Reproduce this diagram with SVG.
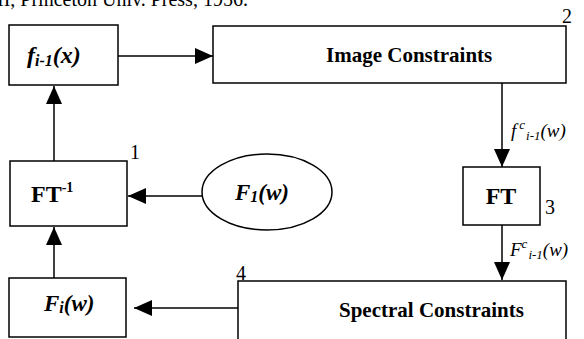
<svg xmlns="http://www.w3.org/2000/svg" width="584" height="339" viewBox="0 0 584 339">
<style>
.box{fill:#fff;stroke:#000;stroke-width:1.5}
.ln{fill:none;stroke:#000;stroke-width:1.5}
.t{font-family:"Liberation Serif","Times New Roman",serif;fill:#000}
.b{font-weight:bold}
.i{font-style:italic}
.num{font-family:"Liberation Serif","Times New Roman",serif;font-size:20px;fill:#000}
</style>
<defs>
<marker id="ah" markerUnits="userSpaceOnUse" markerWidth="18" markerHeight="16" refX="18" refY="8" orient="auto">
<path d="M0,0 L18,8 L0,16 z" fill="#000"/>
</marker>
</defs>
<rect width="584" height="339" fill="#fff"/>
<text class="t" x="-3" y="6" font-size="20">II, Princeton Univ. Press, 1956.</text>
<g id="connectors">
<line class="ln" x1="118" y1="56" x2="213" y2="56" marker-end="url(#ah)"/>
<line class="ln" x1="502" y1="83" x2="502" y2="167" marker-end="url(#ah)"/>
<line class="ln" x1="502" y1="225" x2="502" y2="280" marker-end="url(#ah)"/>
<line class="ln" x1="238" y1="308" x2="134" y2="308" marker-end="url(#ah)"/>
<line class="ln" x1="54" y1="278" x2="54" y2="227" marker-end="url(#ah)"/>
<line class="ln" x1="54" y1="161" x2="54" y2="86" marker-end="url(#ah)"/>
<line class="ln" x1="202" y1="196" x2="128" y2="196" marker-end="url(#ah)"/>
<text class="t i" x="511" y="137" font-size="19">f<tspan dx="3" dy="-8" font-size="13">c</tspan><tspan dx="1" dy="11" font-size="13">i-1</tspan><tspan dy="-3">(w)</tspan></text>
<text class="t i" x="510" y="256" font-size="19">F<tspan dy="-8" font-size="13">c</tspan><tspan dx="1" dy="11" font-size="13">i-1</tspan><tspan dy="-3">(w)</tspan></text>
</g>
<g id="node-f">
<rect class="box" x="9" y="25" width="109" height="60"/>
<text class="t b i" x="27" y="63" font-size="24">f<tspan font-size="16" dy="3">i-1</tspan><tspan dy="-3">(x)</tspan></text>
</g>
<g id="node-image">
<rect class="box" x="213" y="26" width="353" height="57"/>
<text class="t b" x="326" y="62" font-size="21">Image Constraints</text>
<text class="num" x="562" y="23">2</text>
</g>
<g id="node-ft">
<rect class="box" x="463" y="167" width="77" height="58"/>
<text class="t b" x="501" y="204" font-size="24" text-anchor="middle">FT</text>
<text class="num" x="545" y="214">3</text>
</g>
<g id="node-spectral">
<path class="ln" d="M238,345 L238,281 L566,281 L566,345"/>
<text class="t b" x="339" y="317" font-size="21">Spectral Constraints</text>
<text class="num" x="236" y="280">4</text>
</g>
<g id="node-fi">
<rect class="box" x="9" y="278" width="117" height="59"/>
<text class="t b i" x="44" y="311" font-size="23">F<tspan font-size="16" dy="2">i</tspan><tspan dy="-2">(w)</tspan></text>
</g>
<g id="node-ftinv">
<rect class="box" x="10" y="161" width="117" height="65"/>
<text class="t b" x="31" y="202" font-size="24">FT<tspan font-size="14" dy="-10">-1</tspan></text>
<text class="num" x="130" y="159">1</text>
</g>
<g id="node-F1">
<ellipse class="box" cx="267" cy="192" rx="65" ry="38"/>
<text class="t b i" x="262" y="200" font-size="23" text-anchor="middle">F<tspan font-size="16" dy="2">1</tspan><tspan dy="-2">(w)</tspan></text>
</g>
</svg>
